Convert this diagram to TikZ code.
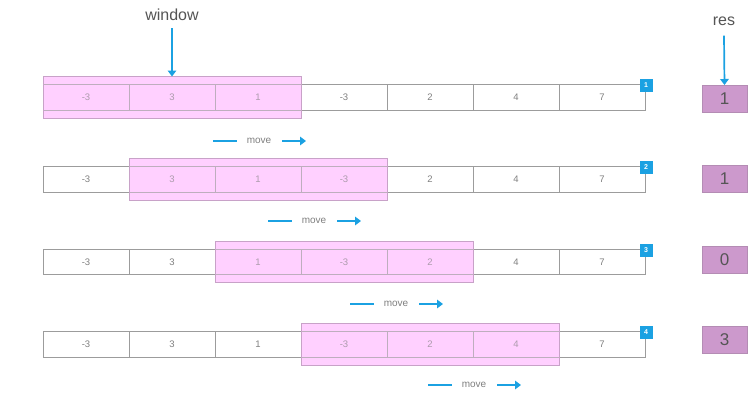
\documentclass[tikz,border=0pt]{standalone}
\usepackage{fontspec}
\setmainfont{Liberation Sans}
\usetikzlibrary{arrows.meta}
\definecolor{cellline}{HTML}{9C9C9C}
\definecolor{celltext}{HTML}{808080}
\definecolor{pinkfill}{HTML}{FFD0FF}
\definecolor{pinkline}{HTML}{C8A2C8}
\definecolor{resfill}{HTML}{CC99CC}
\definecolor{resline}{HTML}{B48CB4}
\definecolor{arrowblue}{HTML}{1BA1E2}
\definecolor{labeltext}{HTML}{555555}
\begin{document}
\begin{tikzpicture}[x=1pt,y=-1pt,
  cellbox/.style={draw=cellline, line width=0.9pt, minimum width=86pt, minimum height=25.5pt,
    inner sep=0pt, outer sep=0pt, font=\fontsize{9.5}{9.5}\selectfont, text=celltext, anchor=north west},
  winfill/.style={fill=pinkfill, minimum width=258pt, minimum height=41.5pt, inner sep=0pt,
    outer sep=0pt, anchor=north west},
  winbox/.style={draw=pinkline, line width=0.9pt, fill=pinkfill, fill opacity=0.35,
    minimum width=258pt, minimum height=41.5pt, inner sep=0pt, outer sep=0pt, anchor=north west},
  badge/.style={fill=arrowblue, minimum width=13pt, minimum height=13pt, inner sep=0pt,
    text=white, font=\fontsize{7}{7}\selectfont\bfseries},
  resbox/.style={draw=resline, line width=0.8pt, fill=resfill, minimum width=45pt, minimum height=27pt,
    inner sep=0pt, outer sep=0pt, anchor=north, text=labeltext, font=\fontsize{17}{17}\selectfont},
  movetext/.style={text=celltext, font=\fontsize{10}{10}\selectfont, inner sep=0pt},
  toplabel/.style={text=labeltext, font=\fontsize{16}{16}\selectfont, inner sep=2pt},
  blueline/.style={draw=arrowblue, line width=1.7pt},
  bluearrow/.style={draw=arrowblue, line width=1.7pt, -{Triangle[length=6pt,width=8.5pt]}},
]
\useasboundingbox[fill=white] (0,0) rectangle (753,400);

\foreach \r/\T/\s/\res/\rt/\mx/\my in {1/84.5/0/1/85/213/141, 2/166.5/1/1/165/268/221, 3/249/2/0/246/350/304, 4/331.5/3/3/326/428/385}{
  \node[winfill] (wf\r) at ({43+86*\s}, \T-8) {};
  \foreach \v [count=\k from 0] in {-3,3,1,-3,2,4,7}{
    \node[cellbox] (c\r-\k) at ({43+86*\k}, \T) {\v};
  }
  \node[winbox] (w\r) at ({43+86*\s}, \T-8) {};
  \node[badge] (b\r) at (646, \T+1) {\r};
  \node[resbox] (r\r) at (724.5, \rt) {\res};
  \node[movetext] (m\r) at (\mx+46, \my) {move};
  \coordinate (ma\r) at (\mx, \my);
  \coordinate (mb\r) at (\mx+24, \my);
  \coordinate (mc\r) at (\mx+69, \my);
  \coordinate (md\r) at (\mx+93, \my);
  \draw[blueline] (ma\r) -- (mb\r);
  \draw[bluearrow] (mc\r) -- (md\r);
}

\node[toplabel] (winlabel) at (172, 15) {window};
\node[toplabel] (reslabel) at (724, 21) {res};
\draw[bluearrow] ([yshift=-5pt]winlabel.south) -- (w1.north);
\draw[bluearrow] ([yshift=-8pt]reslabel.south) -- (r1.north);
\end{tikzpicture}
\end{document}
